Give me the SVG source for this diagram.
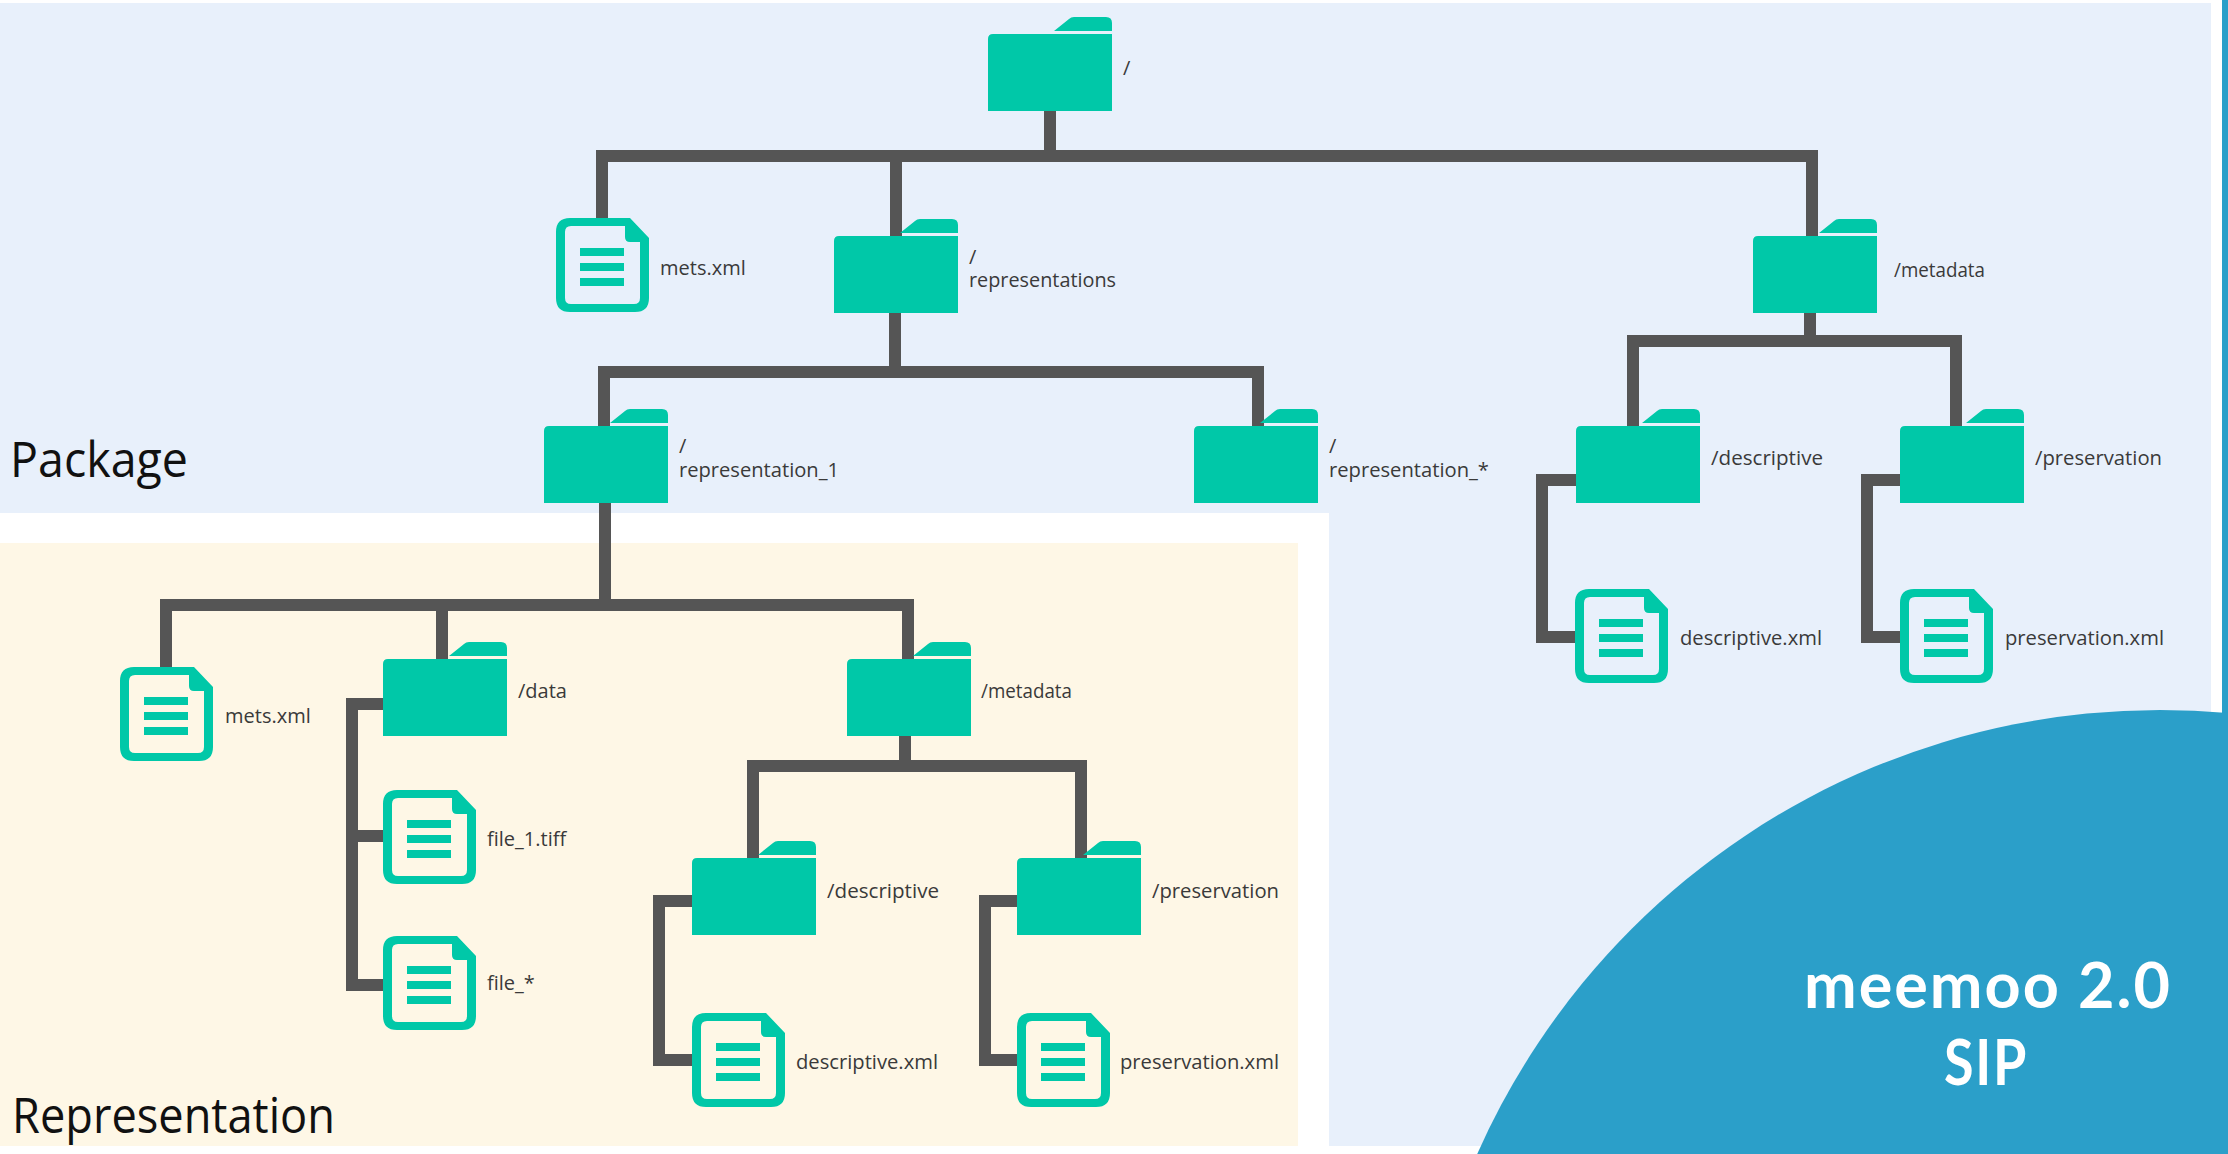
<svg xmlns="http://www.w3.org/2000/svg" xmlns:xlink="http://www.w3.org/1999/xlink" width="2228" height="1154" viewBox="0 0 2228 1154">
<style>
.t{font-family:"Open Sans","Noto Sans","DejaVu Sans",sans-serif;font-size:20px;fill:#3a3a3a}
.h{font-family:"Open Sans","Noto Sans","DejaVu Sans",sans-serif;font-size:49px;fill:#111}
.w{font-family:Lato,"Open Sans",sans-serif;font-size:64px;font-weight:700;fill:#fff;text-anchor:middle;letter-spacing:2px}
.c{fill:none;stroke:#555;stroke-width:12;stroke-linejoin:miter}
.i{fill:#00c8a8}
</style>
<defs>
<g id="folder"><path class="i" d="M66-3 L81-15 Q83-17 86-17 H118 Q124-17 124-11 V-3 Z"/><path class="i" d="M5 0 H124 V77 H0 V5 Q0 0 5 0 Z"/></g>
<g id="doc"><path class="i" fill-rule="evenodd" d="M14 0 H74 L93 20 V80 Q93 94 79 94 H14 Q0 94 0 80 V14 Q0 0 14 0 Z M15 8 Q9 8 9 14 V80 Q9 86 15 86 H78 Q84 86 84 80 V24 H74 Q69 24 69 19 V8 Z"/><rect class="i" x="24" y="30" width="44" height="8"/><rect class="i" x="24" y="45" width="44" height="8"/><rect class="i" x="24" y="60" width="44" height="8"/></g>
</defs>
<rect width="2228" height="1154" fill="#fff"/>
<rect id="package-bg" x="0" y="3" width="2211" height="1143" fill="#e8f0fb"/>
<rect x="0" y="513" width="1329" height="641" fill="#fff"/>
<rect id="representation-bg" x="0" y="543" width="1298" height="603" fill="#fef7e6"/>
<rect x="2222" y="0" width="6" height="760" fill="#2a9fc9"/>
<circle id="corner" cx="2160" cy="1457" r="747" fill="#2b9fc9"/>
<g id="connectors">
<path class="c" d="M1050 111 V156 M602 218 V156 H1812 V236 M896 156 V236"/>
<path class="c" d="M895 312 V372 M604 426 V372 H1258 V426"/>
<path class="c" d="M1810 312 V341 M1633 426 V341 H1956 V426"/>
<path class="c" d="M605 502 V605 M166 667 V605 H908 V659 M442 605 V659"/>
<path class="c" d="M383 704 H352 V985 H383 M352 836 H383"/>
<path class="c" d="M905 735 V766 M753 858 V766 H1081 V858"/>
<path class="c" d="M1576 480 H1542 V637 H1576"/>
<path class="c" d="M1900 480 H1867 V637 H1900"/>
<path class="c" d="M692 901 H659 V1060 H692"/>
<path class="c" d="M1017 901 H985 V1060 H1017"/>
</g>
<text class="h" x="10" y="477" textLength="178" lengthAdjust="spacingAndGlyphs">Package</text>
<text class="h" x="12" y="1133" textLength="323" lengthAdjust="spacingAndGlyphs">Representation</text>
<g id="root"><use href="#folder" x="988" y="34"/><text class="t" x="1123" y="75">/</text></g>
<g id="pkg-mets"><use href="#doc" x="556" y="218"/><text class="t" x="660" y="275">mets.xml</text></g>
<g id="pkg-representations"><use href="#folder" x="834" y="236"/><text class="t" x="969" y="264">/</text><text class="t" x="969" y="287" textLength="147" lengthAdjust="spacingAndGlyphs">representations</text></g>
<g id="pkg-metadata"><use href="#folder" x="1753" y="236"/><text class="t" x="1894" y="277" textLength="91" lengthAdjust="spacingAndGlyphs">/metadata</text></g>
<g id="representation-1"><use href="#folder" x="544" y="426"/><text class="t" x="679" y="453">/</text><text class="t" x="679" y="477" textLength="160" lengthAdjust="spacingAndGlyphs">representation_1</text></g>
<g id="representation-n"><use href="#folder" x="1194" y="426"/><text class="t" x="1329" y="453">/</text><text class="t" x="1329" y="477" textLength="160" lengthAdjust="spacingAndGlyphs">representation_*</text></g>
<g id="pkg-descriptive"><use href="#folder" x="1576" y="426"/><text class="t" x="1711" y="465" textLength="112" lengthAdjust="spacingAndGlyphs">/descriptive</text></g>
<g id="pkg-preservation"><use href="#folder" x="1900" y="426"/><text class="t" x="2035" y="465" textLength="127" lengthAdjust="spacingAndGlyphs">/preservation</text></g>
<g id="pkg-descriptive-xml"><use href="#doc" x="1575" y="589"/><text class="t" x="1680" y="645" textLength="142" lengthAdjust="spacingAndGlyphs">descriptive.xml</text></g>
<g id="pkg-preservation-xml"><use href="#doc" x="1900" y="589"/><text class="t" x="2005" y="645" textLength="159" lengthAdjust="spacingAndGlyphs">preservation.xml</text></g>
<g id="rep-mets"><use href="#doc" x="120" y="667"/><text class="t" x="225" y="723">mets.xml</text></g>
<g id="rep-data"><use href="#folder" x="383" y="659"/><text class="t" x="518" y="698">/data</text></g>
<g id="rep-metadata"><use href="#folder" x="847" y="659"/><text class="t" x="981" y="698" textLength="91" lengthAdjust="spacingAndGlyphs">/metadata</text></g>
<g id="file-1"><use href="#doc" x="383" y="790"/><text class="t" x="487" y="846">file_1.tiff</text></g>
<g id="file-n"><use href="#doc" x="383" y="936"/><text class="t" x="487" y="990">file_*</text></g>
<g id="rep-descriptive"><use href="#folder" x="692" y="858"/><text class="t" x="827" y="898" textLength="112" lengthAdjust="spacingAndGlyphs">/descriptive</text></g>
<g id="rep-preservation"><use href="#folder" x="1017" y="858"/><text class="t" x="1152" y="898" textLength="127" lengthAdjust="spacingAndGlyphs">/preservation</text></g>
<g id="rep-descriptive-xml"><use href="#doc" x="692" y="1013"/><text class="t" x="796" y="1069" textLength="142" lengthAdjust="spacingAndGlyphs">descriptive.xml</text></g>
<g id="rep-preservation-xml"><use href="#doc" x="1017" y="1013"/><text class="t" x="1120" y="1069" textLength="159" lengthAdjust="spacingAndGlyphs">preservation.xml</text></g>
<text class="w" x="1988" y="1008" textLength="368" lengthAdjust="spacingAndGlyphs">meemoo 2.0</text>
<text class="w" x="1986" y="1085" textLength="84" lengthAdjust="spacingAndGlyphs">SIP</text>
</svg>
